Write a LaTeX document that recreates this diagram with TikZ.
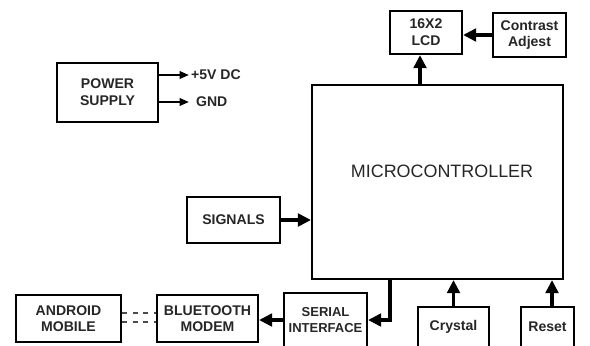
\documentclass[tikz,border=0pt]{standalone}
\usepackage{fontspec}
\setmainfont{Liberation Sans}
\usetikzlibrary{arrows.meta,positioning}

\begin{document}
\begin{tikzpicture}[
  x=0.02cm, y=-0.02cm,
  font=\fontsize{8}{9.5}\selectfont\bfseries,
  box/.style={
    draw, line width=1.2pt,
    inner sep=1pt, align=center,
    text=black!85
  },
  arrow/.style={
    -{Triangle[length=2.6mm,width=2.5mm]},
    line width=2.1pt},
  thin arrow/.style={
    -{Triangle[length=1.9mm,width=1.5mm]},
    line width=1.3pt},
  tag/.style={
    anchor=west, inner sep=1pt,
    text=black!85}
]
\useasboundingbox (0,0) rectangle (590,345);
\clip (0,0) rectangle (590,345);

\node[box, minimum width=2.02cm, minimum height=1.18cm] (power) at (107.5,92.5)
  {POWER\\SUPPLY};
\node[box, minimum width=1.44cm, minimum height=0.86cm] (lcd) at (426,32.5)
  {16X2\\LCD};
\node[box, minimum width=1.46cm, minimum height=0.88cm] (contrast) at (529.5,35)
  {Contrast\\Adjest};
\node[box, minimum width=5.02cm, minimum height=3.88cm] (mcu) at (437.5,182) {};
\node[font=\fontsize{10.2}{12}\selectfont, text=black!85] (mculabel) at (442,171)
  {MICROCONTROLLER};
\node[box, minimum width=1.86cm, minimum height=0.92cm] (signals) at (233.5,220)
  {SIGNALS};
\node[box, minimum width=1.66cm, minimum height=1.08cm,
  font=\fontsize{7.4}{9.5}\selectfont\bfseries] (serial) at (325.5,320)
  {SERIAL\\INTERFACE};
\node[box, minimum width=1.42cm, minimum height=0.80cm] (crystal) at (453.5,327)
  {Crystal};
\node[box, minimum width=1.06cm, minimum height=0.80cm] (reset) at (547.5,327)
  {Reset};
\node[box, minimum width=2.10cm, minimum height=0.94cm] (android) at (68.5,318.5)
  {ANDROID\\MOBILE};
\node[box, minimum width=2.02cm, minimum height=0.94cm] (bluetooth) at (207.5,318.5)
  {BLUETOOTH\\MODEM};

% supply outputs
\node[tag] (vcc) at (189,75) {+5V DC};
\node[tag] (gnd) at (194,102) {GND};
\draw[thin arrow] (power.east |- vcc) -- (vcc.west);
\draw[thin arrow] (power.east |- gnd) -- ([xshift=-0.1cm]gnd.west);

% microcontroller links
\draw[arrow] (contrast.west) -- (contrast.west -| lcd.east);
\draw[arrow] ([xshift=-0.12cm]mcu.north -| lcd) -- ([xshift=-0.12cm]lcd.south);
\draw[arrow] (signals.east) -- (signals.east -| mcu.west);
\draw[arrow] ([xshift=-0.95cm]mcu.south) |- (serial.east);
\draw[arrow] (crystal.north) -- (crystal.north |- mcu.south);
\draw[arrow] ([xshift=0.09cm]reset.north) -- ([xshift=0.09cm]reset.north |- mcu.south);
\draw[arrow] (serial.west) -- (serial.west -| bluetooth.east);

% wireless link
\draw[dashed, line width=0.8pt, black!70] ([yshift=0.11cm]android.east) -- ([yshift=0.11cm]bluetooth.west);
\draw[dashed, line width=0.8pt, black!70] ([yshift=-0.07cm]android.east) -- ([yshift=-0.07cm]bluetooth.west);
\end{tikzpicture}
\end{document}
